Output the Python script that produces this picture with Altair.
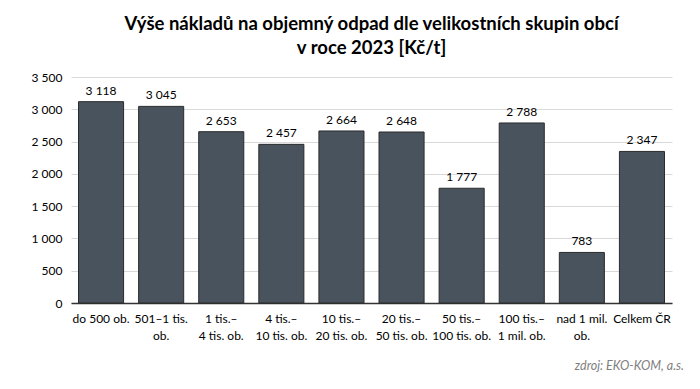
import altair as alt
import pandas as pd

categories = [
    "do 500 ob.",
    "501–1 tis.\nob.",
    "1 tis.–\n4 tis. ob.",
    "4 tis.–\n10 tis. ob.",
    "10 tis.–\n20 tis. ob.",
    "20 tis.–\n50 tis. ob.",
    "50 tis.–\n100 tis. ob.",
    "100 tis.–\n1 mil. ob.",
    "nad 1 mil.\nob.",
    "Celkem ČR",
]
values = [3118, 3045, 2653, 2457, 2664, 2648, 1777, 2788, 783, 2347]
value_labels = ["3 118", "3 045", "2 653", "2 457", "2 664", "2 648", "1 777", "2 788", "783", "2 347"]
y_ticks = [0, 500, 1000, 1500, 2000, 2500, 3000, 3500]

df = pd.DataFrame({"cat": categories, "value": values, "label": value_labels})

FONT = "Lato"
W, H = 601, 226

x_enc = alt.X(
    "cat:N",
    sort=categories,
    scale=alt.Scale(paddingInner=0.25, paddingOuter=0.125),
    axis=alt.Axis(
        title=None,
        labelAngle=0,
        labelExpr="split(datum.label, '\\n')",
        labelFontSize=12,
        labelLineHeight=17,
        labelColor="#000000",
        labelFont=FONT,
        labelPadding=10,
        ticks=False,
        domainColor="#333333",
        domainWidth=1.5,
        grid=False,
    ),
)

y_enc = alt.Y(
    "value:Q",
    scale=alt.Scale(domain=[0, 3500], nice=False),
    axis=alt.Axis(
        title=None,
        values=y_ticks,
        labelExpr="replace(format(datum.value, ','), ',', ' ')",
        labelFontSize=12,
        labelColor="#000000",
        labelFont=FONT,
        labelPadding=9,
        labelOverlap=False,
        ticks=False,
        domain=False,
        grid=True,
        gridColor="#d9d9d9",
    ),
)

base = alt.Chart(df).encode(x=x_enc, y=y_enc)

bars = base.mark_bar(color="#48535d", stroke="#2b2b2b", strokeWidth=1)

labels = base.mark_text(dy=-11, fontSize=12, font=FONT, color="#000000").encode(text="label:N")

source = alt.Chart(pd.DataFrame({"t": ["zdroj: EKO-KOM, a.s."]})).mark_text(
    align="right", baseline="middle", fontSize=12.5, font=FONT, fontStyle="italic", color="#7f7f7f"
).encode(x=alt.value(613), y=alt.value(289), text="t:N")

chart = (
    alt.layer(bars, labels, source)
    .properties(
        width=W,
        height=H,
        autosize=alt.AutoSizeParams(type="none"),
        padding={"left": 63, "top": 69, "right": 20, "bottom": 78},
        title=alt.TitleParams(
            text=["Výše nákladů na objemný odpad dle velikostních skupin obcí", "v roce 2023 [Kč/t]"],
            fontSize=18.5,
            font=FONT,
            fontWeight="bold",
            color="#000000",
            lineHeight=24,
            anchor="middle",
            offset=14,
        ),
    )
    .configure_view(stroke=None)
)

chart.save("out.html", embed_options={"renderer": "svg", "actions": False})
